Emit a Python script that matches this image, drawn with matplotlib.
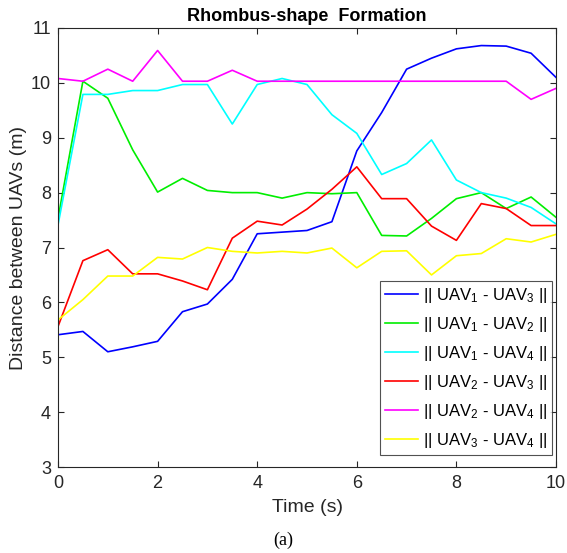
import matplotlib
matplotlib.use("Agg")
import matplotlib.pyplot as plt

plt.rcParams["font.family"] = ["Liberation Sans", "DejaVu Sans"]
plt.rcParams["mathtext.fontset"] = "custom"
plt.rcParams["mathtext.rm"] = "Liberation Sans"
plt.rcParams["mathtext.it"] = "Liberation Sans"

# time samples (s)
t = [0, 0.5, 1, 1.5, 2, 2.5, 3, 3.5, 4, 4.5, 5,
     5.5, 6, 6.5, 7, 7.5, 8, 8.5, 9, 9.5, 10]

d13 = [5.41, 5.47, 5.10, 5.19, 5.29, 5.83, 5.97, 6.42, 7.25, 7.28, 7.31,
       7.47, 8.76, 9.46, 10.25, 10.45, 10.62, 10.68, 10.67, 10.54, 10.10]
d12 = [7.53, 10.03, 9.72, 8.78, 8.01, 8.26, 8.04, 8.00, 8.00, 7.90, 8.00,
       7.98, 8.00, 7.22, 7.21, 7.53, 7.89, 8.00, 7.71, 7.92, 7.55]
d14 = [7.41, 9.79, 9.79, 9.86, 9.86, 9.97, 9.97, 9.25, 9.97, 10.08, 9.97,
       9.42, 9.08, 8.33, 8.53, 8.96, 8.23, 8.00, 7.90, 7.73, 7.43]
d23 = [5.56, 6.76, 6.96, 6.52, 6.52, 6.39, 6.23, 7.17, 7.48, 7.41, 7.70,
       8.06, 8.47, 7.89, 7.89, 7.39, 7.13, 7.80, 7.71, 7.40, 7.40]
d24 = [10.08, 10.03, 10.25, 10.03, 10.59, 10.03, 10.03, 10.23, 10.03, 10.03, 10.03,
       10.03, 10.03, 10.03, 10.03, 10.03, 10.03, 10.03, 10.03, 9.70, 9.90]
d34 = [5.68, 6.05, 6.48, 6.48, 6.82, 6.79, 7.00, 6.93, 6.90, 6.93, 6.90,
       6.99, 6.63, 6.93, 6.94, 6.50, 6.85, 6.89, 7.16, 7.10, 7.24]

series = [
    (d13, "|| UAV$_1$ - UAV$_3$ ||", "#0000ff"),
    (d12, "|| UAV$_1$ - UAV$_2$ ||", "#00ee00"),
    (d14, "|| UAV$_1$ - UAV$_4$ ||", "#00ffff"),
    (d23, "|| UAV$_2$ - UAV$_3$ ||", "#ff0000"),
    (d24, "|| UAV$_2$ - UAV$_4$ ||", "#ff00ff"),
    (d34, "|| UAV$_3$ - UAV$_4$ ||", "#ffff00"),
]

fig = plt.figure(figsize=(5.67, 5.53), dpi=100)
ax = fig.add_axes([58 / 567, 1 - 467 / 553, (556 - 58) / 567, (467 - 28) / 553])

for ys, label, color in series:
    ax.plot(t, ys, color=color, linewidth=1.2, label=label)

ax.set_xlim(0, 10)
ax.set_ylim(3, 11)
ax.set_xticks([0, 2, 4, 6, 8, 10])
ax.set_yticks(range(3, 12))
ax.tick_params(direction="in", top=True, right=True, labelsize=13,
               colors="#262626", length=4, width=0.8)
ax.tick_params(axis="x", pad=6)
ax.tick_params(axis="y", pad=5)
for s in ax.spines.values():
    s.set_color("#262626")
    s.set_linewidth(0.8)

ax.set_title("Rhombus-shape  Formation", fontsize=13, fontweight="bold", pad=5)
ax.set_xlabel("Time (s)", fontsize=14, color="#262626", labelpad=5)
ax.set_ylabel("Distance between UAVs (m)", fontsize=14, color="#262626", labelpad=3)

leg = ax.legend(loc="lower right", bbox_to_anchor=(0.992, 0.027), fontsize=12,
                frameon=True, fancybox=False, edgecolor="#262626",
                handlelength=2.0, handletextpad=0.25, borderpad=0.3,
                labelspacing=0.6, borderaxespad=0)
leg.get_frame().set_linewidth(0.8)

fig.text(283 / 567, 1 - 540 / 553, "(a)", ha="center", va="center",
         fontsize=13, family="Liberation Serif")

fig.savefig("out.png", dpi=100)
